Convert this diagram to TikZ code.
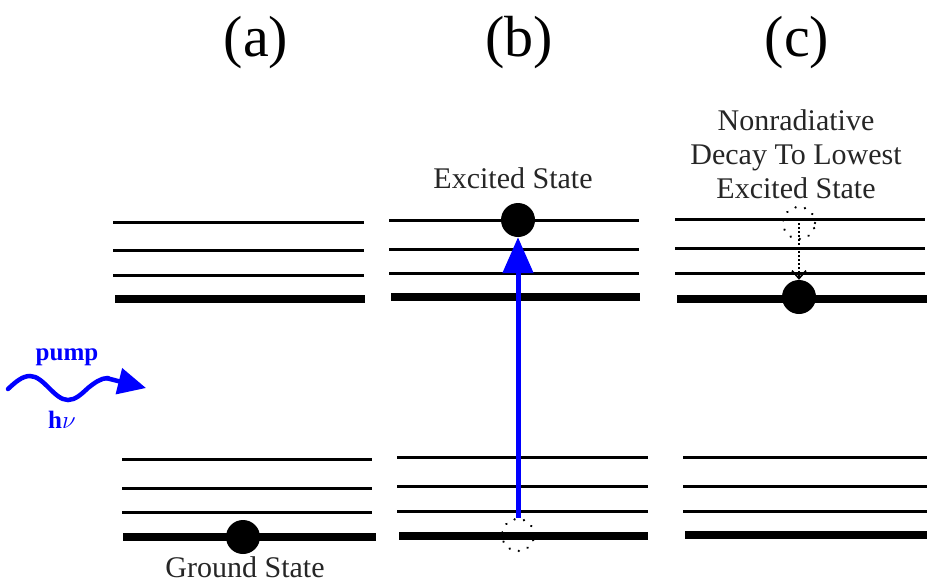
\documentclass[tikz,border=0pt]{standalone}
\usepackage{fontspec}
\setmainfont{Liberation Serif}
\usetikzlibrary{arrows.meta}
\begin{document}
\begin{tikzpicture}[x=1pt,y=-1pt,
  thinlvl/.style={line width=3pt},
  thicklvl/.style={line width=7.5pt},
  ptitle/.style={font=\fontsize{58}{60}\selectfont, inner sep=0pt},
  lbl/.style={font=\fontsize{30}{34}\selectfont, inner sep=0pt, align=center, text=black!85},
  electron/.style={circle, fill=black, minimum size=34pt, inner sep=0pt},
  hole/.style={circle, draw=black, line width=2.6pt, dash pattern=on 0.01pt off 9.5pt, line cap=round, minimum size=32pt, inner sep=0pt},
  pumparrow/.style={blue, line width=5pt, -{Triangle[length=36pt,width=30pt]}},
  decayarrow/.style={black, line width=2pt, dash pattern=on 2pt off 2pt, -{Straight Barb[length=8pt,width=14pt,line width=1.6pt]}}
]
\useasboundingbox (0,0) rectangle (927,587);

% titles
\node[ptitle] (ta) at (256,43) {(a)};
\node[ptitle] (tb) at (519,43) {(b)};
\node[ptitle] (tc) at (797,43) {(c)};

% (a) upper levels
\draw[thinlvl] (113,222) -- (364,222);
\draw[thinlvl] (113,250) -- (364,250);
\draw[thinlvl] (113,275) -- (364,275);
\draw[thicklvl] (115,299) -- (365,299);
% (a) lower levels
\draw[thinlvl] (122,459) -- (372,459);
\draw[thinlvl] (122,488) -- (372,488);
\draw[thinlvl] (122,512) -- (372,512);
\draw[thicklvl] (123,537) -- (376,537);

% (b) upper levels
\draw[thinlvl] (389,220) -- (639,220);
\draw[thinlvl] (389,249) -- (639,249);
\draw[thinlvl] (389,273) -- (639,273);
\draw[thicklvl] (391,297) -- (640,297);
% (b) lower levels
\draw[thinlvl] (397,457) -- (648,457);
\draw[thinlvl] (397,486) -- (648,486);
\draw[thinlvl] (397,511) -- (648,511);
\draw[thicklvl] (399,536) -- (648,536);

% (c) upper levels
\draw[thinlvl] (675,219) -- (925,219);
\draw[thinlvl] (675,248) -- (925,248);
\draw[thinlvl] (675,273) -- (925,273);
\draw[thicklvl] (677,299) -- (927,299);
% (c) lower levels
\draw[thinlvl] (683,457) -- (927,457);
\draw[thinlvl] (683,486) -- (927,486);
\draw[thinlvl] (683,511) -- (927,511);
\draw[thicklvl] (685,535) -- (927,535);

% electrons
\node[electron] (ea) at (243,537) {};
\node[lbl, anchor=north] (ga) at (245,556) {Ground State};

\node[hole] (hb) at (518,535) {};
\node[electron] (eb) at (518,220) {};
\node[lbl] (xb) at (513,178) {Excited State};
\draw[pumparrow] (hb.north) -- (eb.south);

\node[hole] (hc) at (799,223) {};
\node[electron] (ec) at (799,297) {};
\node[lbl] (xc) at (796,154) {Nonradiative\\Decay To Lowest\\Excited State};
\draw[decayarrow] (hc.center) -- (ec.north);

% pump photon
\node[font=\fontsize{25}{28}\selectfont\bfseries, text=blue, inner sep=0pt] (pl) at (67,357) {pump};
\node[font=\fontsize{25}{28}\selectfont\bfseries, text=blue, inner sep=0pt] (hl) at (62,420) {h$\nu$};
\coordinate (ws) at (8,389);
\coordinate (wt) at (146,388);
\draw[blue, line width=4.5pt, line cap=round] (ws) sin (30,376) cos (49,388) sin (68,400) cos (88,388) sin (108,378);
\draw[blue, line width=4.5pt, -{Triangle[length=28pt,width=26pt]}] (106,378) -- (wt);
\end{tikzpicture}
\end{document}
